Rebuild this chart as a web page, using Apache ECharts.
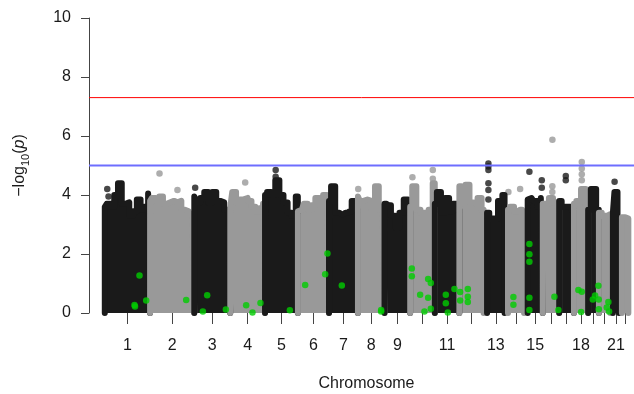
<!DOCTYPE html>
<html>
<head>
<meta charset="utf-8">
<script src="https://cdn.jsdelivr.net/npm/echarts@6/dist/echarts.min.js"></script>
<style>
html, body { margin: 0; padding: 0; background: #fff; }
#manhattan { width: 634px; height: 394px; }
</style>
</head>
<body>
<div id="manhattan"></div>
<script>
// chromosome names and lengths (hg19, Mb)
var chrNames = ['1','2','3','4','5','6','7','8','9','10','11','12','13','14','15','16','17','18','19','20','21','22'];
var chrLen = [249.25, 243.20, 198.02, 191.15, 180.92, 171.12, 159.14, 146.36, 141.21, 135.53, 135.01,
	133.85, 115.17, 107.35, 102.53, 90.35, 81.20, 78.08, 59.13, 63.03, 48.13, 51.30];
// first genotyped position (acrocentric arms have none)
var chrFirst = [0.5, 0.5, 0.5, 0.5, 0.5, 0.5, 0.5, 0.5, 0.5, 0.5, 0.5, 0.5, 19.0, 19.0, 20.0, 0.5, 0.5, 0.5, 0.5, 0.5, 14.5, 16.0];
// labels R kept on the axis
var labelChr = ['1','2','3','4','5','6','7','8','9','11','13','15','18','21'];

// upper edge of the dense SNP cloud, evenly spaced along each chromosome (-log10 p)
var chrTop = [
	[3.6, 3.7, 3.6, 4.0, 4.4, 3.7, 3.75, 3.3, 3.45, 3.85, 3.5, 3.6, 4.05],
	[3.8, 3.9, 3.8, 3.95, 3.7, 3.75, 3.8, 3.75, 3.8, 3.5, 3.45, 3.35, 3.4],
	[3.95, 3.75, 3.9, 4.1, 3.75, 4.1, 3.8, 3.75, 3.5, 3.4],
	[3.6, 4.1, 3.75, 3.85, 3.9, 3.8, 3.6, 3.45, 3.55, 3.7],
	[4.0, 4.1, 4.0, 4.5, 4.0, 3.75, 3.4, 3.3, 3.95],
	[3.45, 3.5, 3.7, 3.5, 3.65, 3.9, 3.7, 4.0, 3.8],
	[3.8, 4.3, 3.4, 3.35, 3.4, 3.45, 3.8, 3.5],
	[3.95, 3.8, 3.85, 3.8, 3.5, 4.3, 3.5, 3.6],
	[3.7, 3.65, 3.3, 2.9, 3.4, 3.85, 3.5],
	[3.6, 4.3, 3.5, 3.4, 3.4, 3.5, 4.4],
	[3.7, 4.1, 3.4, 3.9, 3.45, 3.7, 3.5],
	[4.3, 3.8, 4.35, 3.75, 3.7, 3.9, 3.5],
	[3.4, 3.2, 3.2, 3.8, 4.0],
	[3.5, 3.6, 3.45, 3.5, 3.4],
	[3.85, 3.9, 3.8, 3.6, 3.9],
	[3.7, 3.7, 3.9, 3.75, 3.6],
	[3.8, 3.6, 3.6, 3.5],
	[3.7, 3.8, 4.2, 3.6],
	[3.5, 4.2, 3.5],
	[3.4, 3.3, 3.35],
	[3.4, 4.1, 3.3],
	[3.25, 3.2]
];

// single SNPs standing above the cloud: [chr, position Mb, -log10 p]
var peaks = [
	[1, 14, 4.2], [1, 21, 3.95],
	[2, 52.2, 4.73], [2, 151, 4.17],
	[3, 5.3, 4.25],
	[4, 82.4, 4.42],
	[5, 59, 4.85], [5, 59, 4.62],
	[8, 2, 4.2],
	[10, 12.7, 4.6], [10, 124.9, 4.85], [10, 124.9, 4.55],
	[13, 26.3, 5.07], [13, 26.3, 4.97], [13, 26.3, 4.85], [13, 26.3, 4.4], [13, 26.3, 4.17], [13, 26.3, 3.85],
	[14, 21.2, 4.1], [14, 85.6, 4.2],
	[15, 29.3, 4.79], [15, 97.5, 4.5], [15, 97.5, 4.25],
	[16, 53.4, 5.87], [16, 53, 4.3], [16, 53, 4.1],
	[17, 36.7, 4.64], [17, 36.7, 4.5],
	[18, 43.5, 5.12], [18, 43.5, 4.9], [18, 43.5, 4.7], [18, 43.5, 4.5],
	[21, 23.7, 4.45]
];

// highlighted SNPs (green): [chr, position Mb, -log10 p]
var highlight = [
	[1, 191.4, 1.27], [1, 163.9, 0.27], [1, 166.7, 0.22], [1, 228.3, 0.42],
	[2, 199.0, 0.44],
	[3, 47.7, 0.05], [3, 71.4, 0.6], [3, 174.2, 0.12],
	[4, 87.9, 0.26], [4, 122.5, 0.02], [4, 166.5, 0.34],
	[5, 137.1, 0.09],
	[6, 40.4, 0.95], [6, 150.4, 1.31], [6, 163.0, 2.02],
	[7, 71.0, 0.93],
	[8, 128.1, 0.05], [8, 128.1, 0.1],
	[10, 9.4, 1.51], [10, 9.4, 1.25], [10, 55.1, 0.62], [10, 78.7, 0.05], [10, 99.1, 1.15],
	[10, 113.9, 1.02], [10, 99.1, 0.52], [10, 113.9, 0.14],
	[11, 60.9, 0.62], [11, 60.9, 0.33], [11, 71.9, 0.02], [11, 108.2, 0.81],
	[12, 4.5, 0.71], [12, 4.5, 0.42], [12, 46.9, 0.81], [12, 46.9, 0.55], [12, 46.9, 0.37],
	[14, 48.7, 0.54], [14, 48.7, 0.28],
	[15, 29.3, 2.34], [15, 29.3, 1.99], [15, 29.3, 1.74], [15, 29.3, 0.52], [15, 29.3, 0.1],
	[16, 64.4, 0.55], [16, 86.4, 0.1],
	[18, 24.8, 0.78], [18, 43.5, 0.72], [18, 39.7, 0.03],
	[19, 56.8, 0.92], [19, 38.6, 0.59], [19, 26.0, 0.46], [19, 58.9, 0.46], [19, 58.9, 0.13],
	[20, 52.6, 0.37], [20, 43.8, 0.19], [20, 56.4, 0.05]
];

var genomeWideLine = 7.30103; // -log10(5e-8)
var suggestiveLine = 5;

var darkCol = '#1a1a1a', lightCol = '#999999', hlCol = '#00cd00';
var txtFont = 'Liberation Sans, Arial, sans-serif';

var offset = [], acc = 0;
for (var i = 0; i < chrLen.length; i++) { offset.push(acc); acc += chrLen[i]; }
var total = acc;

// x range as R would give it (3% pad left); right side cut by the 634px window
var xMin = -0.03 * total;
var xMax = 1.0108 * total;

var mids = [];
var series = [];
for (i = 0; i < chrLen.length; i++) {
	var a = offset[i] + chrFirst[i], b = offset[i] + chrLen[i];
	mids.push((a + b) / 2);
	var col = i % 2 === 0 ? darkCol : lightCol;
	var tops = chrTop[i];
	var pts = [[a, 0]];
	for (var k = 0; k < tops.length; k++) {
		pts.push([a + (b - a) * k / (tops.length - 1), tops[k]]);
	}
	pts.push([b, 0]);
	series.push({
		type: 'line',
		data: pts,
		step: 'middle',
		symbol: 'none',
		silent: true,
		clip: false,
		lineStyle: { color: col, width: 6, cap: 'round', join: 'round' },
		areaStyle: { color: col, opacity: 1 }
	});
}

series.push({
	type: 'scatter',
	symbolSize: 6.5,
	clip: false,
	silent: true,
	data: peaks.map(function (p) {
		return { value: [offset[p[0] - 1] + p[1], p[2]], itemStyle: { color: (p[0] % 2 === 1) ? darkCol : lightCol } };
	})
});

series.push({
	type: 'scatter',
	symbolSize: 6.5,
	clip: false,
	silent: true,
	z: 5,
	itemStyle: { color: hlCol },
	data: highlight.map(function (p) { return [offset[p[0] - 1] + p[1], p[2]]; })
});

// threshold lines across the whole plot width
function thresholdLine(val, col, w) {
	return {
		type: 'line',
		data: [[xMin, val], [xMax, val]],
		z: 6,
		symbol: 'none',
		silent: true,
		lineStyle: { type: 'solid', width: w, color: col }
	};
}
series.push(thresholdLine(genomeWideLine, '#ff0000', 1));
series.push(thresholdLine(suggestiveLine, '#6e6eff', 2));

var labelVals = mids.filter(function (m, idx) { return labelChr.indexOf(chrNames[idx]) >= 0; });

var chart = echarts.init(document.getElementById('manhattan'));
chart.setOption({
	animation: false,
	backgroundColor: '#ffffff',
	grid: { left: 89, right: 0, top: 18, bottom: 81, outerBoundsMode: 'none' },
	xAxis: {
		type: 'value',
		min: xMin,
		max: xMax,
		name: 'Chromosome',
		nameLocation: 'middle',
		nameGap: 63,
		nameTextStyle: { fontSize: 16, color: '#1a1a1a', fontFamily: txtFont, padding: [0, 0, 0, 10] },
		axisLine: { show: false, onZero: false },
		splitLine: { show: false },
		axisTick: { show: true, length: 11, customValues: mids, lineStyle: { color: '#444' } },
		axisLabel: {
			customValues: labelVals,
			margin: 25,
			fontSize: 16,
			color: '#1a1a1a',
			fontFamily: txtFont,
			formatter: function (v) {
				for (var j = 0; j < mids.length; j++) {
					if (Math.abs(mids[j] - v) < 0.01) return chrNames[j];
				}
				return '';
			}
		}
	},
	yAxis: {
		type: 'value',
		min: 0,
		max: 10,
		interval: 2,
		name: '{t|\u2212log}{s|10}{t|(}{i|p}{t|)}',
		nameLocation: 'middle',
		nameRotate: 90,
		nameGap: 58,
		nameTextStyle: {
			fontSize: 16, color: '#1a1a1a', fontFamily: txtFont,
			rich: {
				t: { fontSize: 16, color: '#1a1a1a', fontFamily: txtFont, lineHeight: 22 },
				s: { fontSize: 11, color: '#1a1a1a', fontFamily: txtFont, lineHeight: 22, verticalAlign: 'bottom' },
				i: { fontSize: 16, color: '#1a1a1a', fontFamily: txtFont, fontStyle: 'italic', lineHeight: 22 }
			}
		},
		axisLine: { show: true, onZero: false, lineStyle: { color: '#444', width: 1 } },
		axisTick: { show: true, length: 8, lineStyle: { color: '#444' } },
		splitLine: { show: false },
		axisLabel: { margin: 18, fontSize: 16, color: '#1a1a1a', fontFamily: txtFont }
	},
	series: series
});
</script>
</body>
</html>
